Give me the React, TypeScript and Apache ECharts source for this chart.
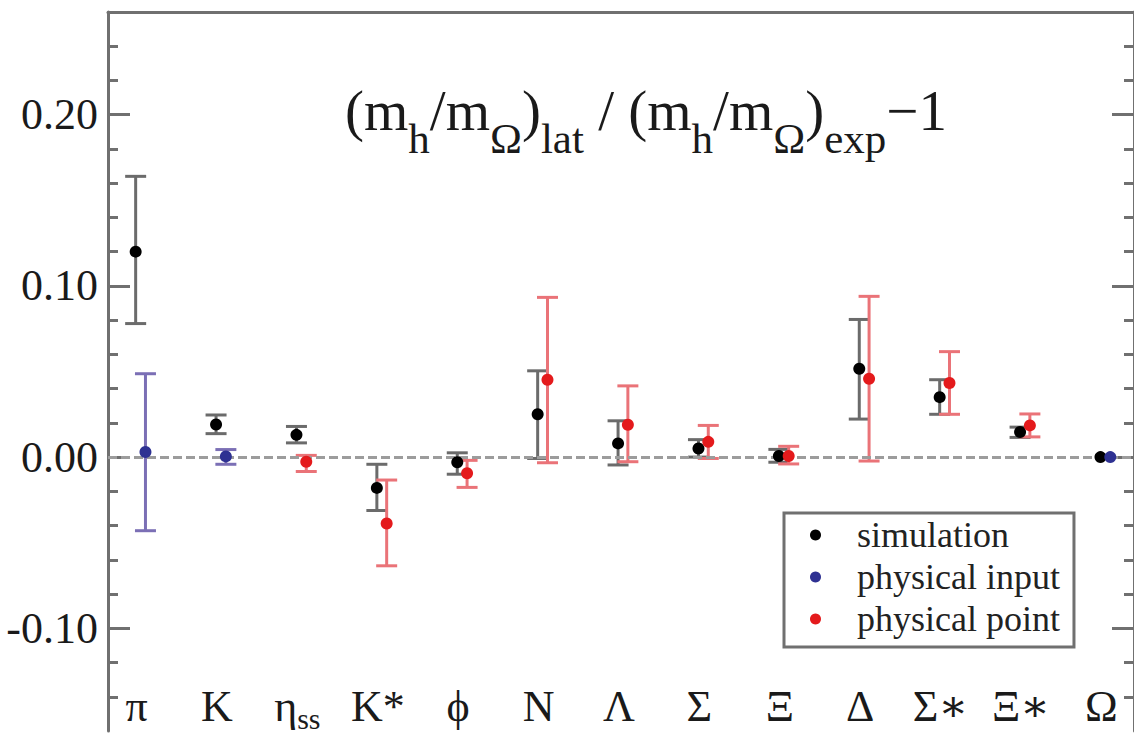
import React, { useEffect, useRef } from "react";
import * as echarts from "echarts";

// ---- data ----
const categories = ["π", "K", "η_ss", "K*", "ϕ", "N", "Λ", "Σ", "Ξ", "Δ", "Σ∗", "Ξ∗", "Ω"];

// simulation (black)
const simValue = [0.120, 0.019, 0.013, -0.018, -0.003, 0.025, 0.008, 0.005, 0.0006, 0.0516, 0.035, 0.0147, 0.0];
const simLow = [0.078, 0.0137, 0.0083, -0.0312, -0.010, -0.0008, -0.0046, 0.0, -0.003, 0.0222, 0.025, 0.0115, null];
const simHigh = [0.164, 0.0246, 0.0179, -0.0042, 0.0025, 0.0504, 0.0212, 0.0102, 0.0045, 0.0804, 0.0452, 0.0175, null];

// physical input (blue)
const inputValue = [0.003, 0.0004, null, null, null, null, null, null, null, null, null, null, 0.0];
const inputLow = [-0.043, -0.0042, null, null, null, null, null, null, null, null, null, null, null];
const inputHigh = [0.0487, 0.0044, null, null, null, null, null, null, null, null, null, null, null];

// physical point (red)
const pointValue = [null, null, -0.0027, -0.0388, -0.0094, 0.0452, 0.0189, 0.0089, 0.0006, 0.0458, 0.0433, 0.0185, null];
const pointLow = [null, null, -0.0084, -0.0635, -0.0177, -0.0033, -0.0027, -0.0008, -0.004, -0.0023, 0.025, 0.0118, null];
const pointHigh = [null, null, 0.001, -0.0134, -0.0019, 0.0933, 0.0416, 0.0185, 0.0063, 0.0939, 0.0616, 0.0252, null];

const majorTicks = [-0.1, 0.0, 0.1, 0.2];
const minorTicks = [-0.14, -0.12, -0.08, -0.06, -0.04, -0.02, 0.02, 0.04, 0.06, 0.08, 0.12, 0.14, 0.16, 0.18, 0.22, 0.24];

const SERIF = "'Liberation Serif', 'DejaVu Serif', serif";
const OFFSET = 0.061; // horizontal offset of the two markers within a category

function catLabel(name: string): string {
  const parts = name.split("_");
  if (parts.length === 2) return `{m|${parts[0]}}{s|${parts[1]}}`;
  return `{m|${name}}`;
}

function points(vals: (number | null)[], dx: number) {
  const out: number[][] = [];
  vals.forEach((v, i) => {
    if (v !== null) out.push([i + dx, v]);
  });
  return out;
}

function bars(lo: (number | null)[], hi: (number | null)[], dx: number) {
  const out: number[][] = [];
  lo.forEach((l, i) => {
    const h = hi[i];
    if (l !== null && h !== null) out.push([i + dx, l, h]);
  });
  return out;
}

function errorSeries(data: number[][], color: string) {
  return {
    type: "custom",
    xAxisIndex: 0,
    yAxisIndex: 0,
    z: 3,
    silent: true,
    data,
    encode: { x: 0, y: [1, 2] },
    renderItem: (params: any, api: any) => {
      const x = api.value(0);
      const p1 = api.coord([x, api.value(1)]);
      const p2 = api.coord([x, api.value(2)]);
      const hw = 10.5;
      const style = { stroke: color, lineWidth: 3 };
      return {
        type: "group",
        children: [
          { type: "line", shape: { x1: p1[0], y1: p1[1], x2: p2[0], y2: p2[1] }, style },
          { type: "line", shape: { x1: p1[0] - hw, y1: p1[1], x2: p1[0] + hw, y2: p1[1] }, style },
          { type: "line", shape: { x1: p2[0] - hw, y1: p2[1], x2: p2[0] + hw, y2: p2[1] }, style },
        ],
      };
    },
  };
}

export default function App() {
  const ref = useRef<HTMLDivElement>(null);

  useEffect(() => {
    if (!ref.current) return;
    const chart = echarts.init(ref.current, null, { renderer: "svg" });
    const axisColor = "#707070";
    const xMin = -0.405;
    const xMax = 12.356;
    const yMin = -0.16;
    const yMax = 0.26;

    const yBase = (position: string, ticks: number[], len: number, showLine: boolean, showLabel: boolean) => ({
      type: "value",
      position,
      min: yMin,
      max: yMax,
      axisLine: { show: showLine, onZero: false, lineStyle: { color: axisColor, width: 3 } },
      axisTick: { show: true, inside: true, length: len, customValues: ticks, lineStyle: { color: axisColor, width: 3 } },
      axisLabel: showLabel
        ? {
            show: true,
            customValues: majorTicks,
            formatter: (v: number) => v.toFixed(2),
            fontFamily: SERIF,
            fontSize: 44,
            color: "#1a1a1a",
            margin: 10,
          }
        : { show: false },
      splitLine: { show: false },
    });

    chart.setOption({
      animation: false,
      backgroundColor: "#fff",
      grid: { left: 108, right: -14, top: 12, bottom: -7, containLabel: false },
      title: {
        left: 345,
        top: 103,
        padding: 0,
        text: "{m|(m}{s|h}{m|/m}{s|Ω}{m|)}{s|lat}{m| / (m}{s|h}{m|/m}{s|Ω}{m|)}{s|exp}{m|−1}",
        textStyle: {
          fontFamily: SERIF,
          fontWeight: "normal",
          rich: {
            m: { fontFamily: SERIF, fontWeight: "normal", fontSize: 57, lineHeight: 57, color: "#1a1a1a", padding: [0, 0, 21, 0], verticalAlign: "bottom" },
            s: { fontFamily: SERIF, fontWeight: "normal", fontSize: 43, lineHeight: 43, color: "#1a1a1a", verticalAlign: "bottom" },
          },
        },
      },
      legend: {
        data: ["simulation", "physical input", "physical point"],
        orient: "vertical",
        left: 784,
        top: 513,
        padding: [2, 14, 8, 26],
        itemGap: 2,
        itemWidth: 11,
        itemHeight: 11,
        icon: "circle",
        borderColor: axisColor,
        borderWidth: 3,
        borderRadius: 0,
        backgroundColor: "#fff",
        selectedMode: false,
        textStyle: { fontFamily: SERIF, fontSize: 36, color: "#222", lineHeight: 40, padding: [0, 0, 0, 31] },
      },
      xAxis: [
        {
          type: "value",
          position: "bottom",
          min: xMin,
          max: xMax,
          axisLine: { show: false },
          axisTick: { show: false },
          splitLine: { show: false },
          axisLabel: {
            show: true,
            inside: true,
            margin: -2,
            customValues: categories.map((_, i) => i),
            formatter: (v: number) => catLabel(categories[Math.round(v)]),
            padding: [0, 8, 0, 0],
            rich: {
              m: { fontFamily: SERIF, fontSize: 44, lineHeight: 44, color: "#1a1a1a", padding: [0, 0, 5, 0], verticalAlign: "bottom" },
              s: { fontFamily: SERIF, fontSize: 30, lineHeight: 30, color: "#1a1a1a", verticalAlign: "bottom" },
            },
          },
        },
        {
          type: "value",
          position: "top",
          min: xMin,
          max: xMax,
          axisLine: { show: true, onZero: false, lineStyle: { color: axisColor, width: 3 } },
          axisTick: { show: false },
          axisLabel: { show: false },
          splitLine: { show: false },
        },
      ],
      yAxis: [
        yBase("left", majorTicks, 22, true, true),
        yBase("left", minorTicks, 10, false, false),
        yBase("right", majorTicks, 22, true, false),
        yBase("right", minorTicks, 10, false, false),
      ],
      series: [
        {
          type: "line",
          data: [],
          z: 1,
          silent: true,
          markLine: {
            silent: true,
            symbol: ["none", "none"],
            label: { show: false },
            lineStyle: { type: [9, 4], color: "#9c9c9c", width: 3 },
            data: [{ yAxis: 0 }],
          },
        },
        errorSeries(bars(simLow, simHigh, -OFFSET), "#6b6b6b"),
        errorSeries(bars(inputLow, inputHigh, OFFSET), "#7b6fb5"),
        errorSeries(bars(pointLow, pointHigh, OFFSET), "#ea7378"),
        {
          name: "simulation",
          type: "scatter",
          z: 5,
          symbol: "circle",
          symbolSize: 12,
          itemStyle: { color: "#000", opacity: 1 },
          data: points(simValue, -OFFSET),
        },
        {
          name: "physical input",
          type: "scatter",
          z: 5,
          symbol: "circle",
          symbolSize: 12,
          itemStyle: { color: "#2e3192", opacity: 1 },
          data: points(inputValue, OFFSET),
        },
        {
          name: "physical point",
          type: "scatter",
          z: 5,
          symbol: "circle",
          symbolSize: 12,
          itemStyle: { color: "#e41a1c", opacity: 1 },
          data: points(pointValue, OFFSET),
        },
      ],
    });

    return () => chart.dispose();
  }, []);

  return (
    <div
      ref={ref}
      style={{ position: "fixed", left: 0, top: 0, width: 1134, height: 733, background: "#fff" }}
    />
  );
}
